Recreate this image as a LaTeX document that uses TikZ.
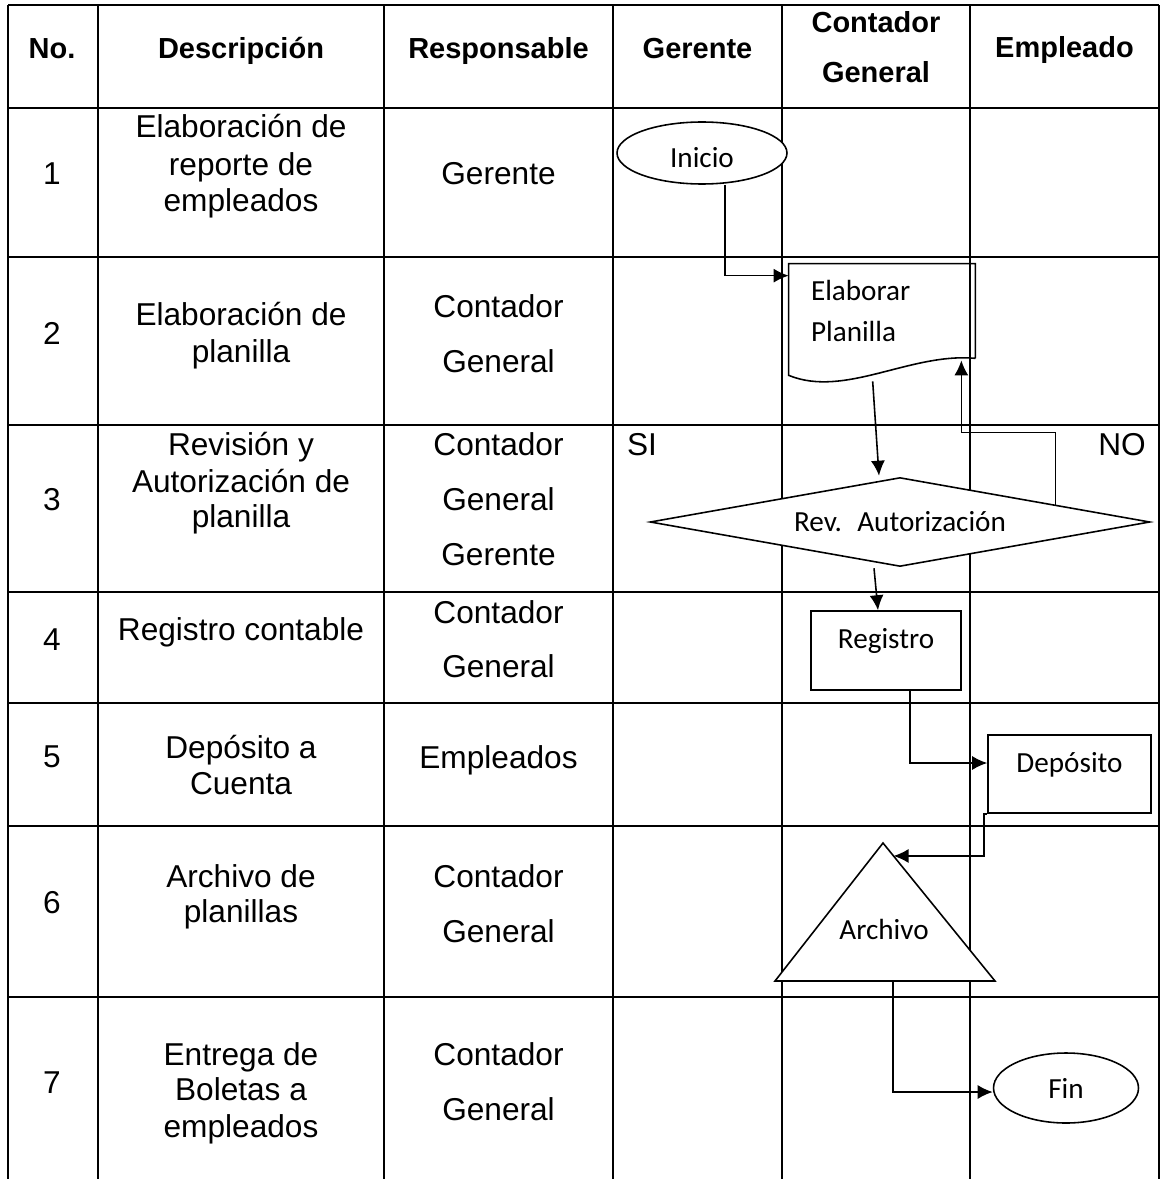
\documentclass[tikz,border=0pt]{standalone}
\usepackage{fontspec}
\setmainfont{Liberation Sans}
\newfontfamily\flowfont{Carlito}
\usetikzlibrary{shapes.geometric, arrows.meta, calc}

\begin{document}
\begin{tikzpicture}[x=0.02cm, y=-0.02cm,
  cell/.style={anchor=base, inner sep=0pt, font=\fontsize{18}{21}\selectfont},
  head/.style={anchor=base, inner sep=0pt, font=\fontsize{16.5}{20}\selectfont\bfseries},
  flow/.style={line width=0.9pt, -{Latex[length=0.3cm, width=0.28cm]}}]
\tikzstyle{ffont}=[font=\flowfont\fontsize{16.6}{23.2}\selectfont]
\tikzstyle{term}=[ffont, draw, fill=white, ellipse, line width=0.9pt, inner sep=0pt, text depth=0pt]
\tikzstyle{proc}=[ffont, draw, fill=white, rectangle, line width=0.9pt, inner sep=0pt, text depth=0.48cm]
\useasboundingbox (0,0) rectangle (1160,1179);

% table
\foreach \y in {5,108,257,425,592,703,826,997}{\draw[line width=1pt] (8,\y) -- (1159,\y);}
\foreach \x in {8,98,384,613,782,970,1159}{\draw[line width=1pt] (\x,5) -- (\x,1179);}

\foreach \x/\y/\t [count=\i] in {52/59/No., 241/59/Descripción, 498.5/59/Responsable,
  697.5/59/Gerente, 876/33/Contador, 876/83/General, 1064.5/58/Empleado}{\node[head] (h\i) at (\x,\y) {\t};}
\foreach \t/\y in {1/185, 2/344, 3/510, 4/650, 5/767, 6/913, 7/1093}{\node[cell] (n\t) at (52,\y) {\t};}
\foreach \y/\t [count=\i] in {138/Elaboración de, 175/reporte de, 212/empleados,
  325/Elaboración de, 362/planilla, 455/Revisión y, 492/Autorización de, 527/planilla,
  640/Registro contable, 758/Depósito a, 794/Cuenta, 887/Archivo de, 922/planillas,
  1065/Entrega de, 1100/Boletas a, 1137/empleados}{\node[cell] (d\i) at (241,\y) {\t};}
\foreach \y/\t [count=\i] in {185/Gerente, 317/Contador, 372/General, 455/Contador,
  510/General, 565/Gerente, 623/Contador, 677/General, 768/Empleados, 887/Contador,
  942/General, 1065/Contador, 1120/General}{\node[cell] (r\i) at (498.5,\y) {\t};}
\node[cell] (si) at (642,455) {SI};
\node[cell] (no) at (1122,455) {NO};

% flow
\node[term, minimum width=3.4cm, minimum height=1.24cm, text height=0.6cm] (ini) at (702,153) {Inicio};
\node[ffont, rectangle, inner xsep=0.44cm, inner ysep=0pt, minimum width=3.72cm, minimum height=1.88cm,
  text width=2.84cm, align=left] (plan) at (882,311) {Elaborar\\Planilla};
\draw[line width=0.9pt] (plan.south east) -- (plan.north east) -- (plan.north west)
  -- ($(plan.south west)+(0,17)$) .. controls +(56,23) and +(-65,-6) .. (plan.south east);
\coordinate (plan-out) at ($(plan.south west)+(84,23)$);
\node[ffont, draw, fill=white, diamond, aspect=5.6, line width=0.9pt, inner sep=0pt,
  minimum width=10cm, minimum height=1.78cm] (rev) at (900,522) {Rev.~ Autorización};
\node[proc, minimum width=3cm, minimum height=1.58cm] (reg) at (886,650.5) {Registro};
\node[proc, minimum width=3.26cm, minimum height=1.56cm] (dep) at (1069.5,774) {Depósito};
\coordinate (arcT) at (883,843);
\coordinate (arcL) at (775,981);
\coordinate (arcR) at (995,981);
\draw[line width=0.9pt, fill=white] (arcL) -- (arcT) -- (arcR) -- cycle;
\node[ffont, anchor=base, inner sep=0pt] (arc) at (884,939) {Archivo};
\node[term, minimum width=2.9cm, minimum height=1.4cm, text height=0.4cm] (fin) at (1066,1088) {Fin};

\draw[flow] ($(ini.south)+(23,0)$) |- ($(plan.north west)+(0,12)$);
\draw[flow] (plan-out) -- ($(rev.north)+(-21,-1)$);
\draw[flow] ($(rev.north)!0.62!(rev.east)$) |- ($(plan.south east)+(-14,74)$) -- ($(plan.south east)+(-14,2)$);
\draw[flow] ($(rev.south)+(-26,1)$) -- ($(reg.north)+(-8,0)$);
\draw[flow] ($(reg.south)+(24,0)$) |- ($(dep.west)+(0,-11)$);
\draw[flow] (dep.south west) -- ++(-3,0) |- ($(arcT)!0.094!(arcR)$);
\draw[flow] ($(arcL)!0.535!(arcR)$) |- ($(fin.west)+(0,4)$);
\end{tikzpicture}
\end{document}
